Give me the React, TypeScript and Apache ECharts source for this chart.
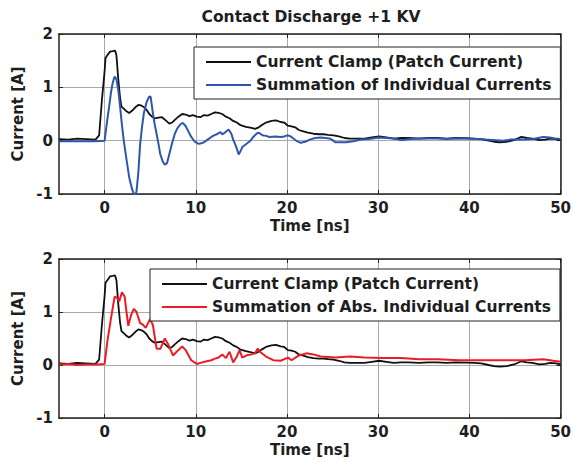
import React, { useEffect, useRef } from "react";
import * as echarts from "echarts";

const titleText = "Contact Discharge +1 KV";
const clampName = "Current Clamp (Patch Current)";
const sumName = "Summation of Individual Currents";
const absName = "Summation of Abs. Individual Currents";
const xName = "Time [ns]";
const yName = "Current [A]";
const xTicks = [0, 10, 20, 30, 40, 50];

// Current clamp (black), same trace in both panels
const clampT = [
  -5, -4, -3, -2, -1, -0.6, -0.3, 0, 0.1, 0.3,
  0.6, 0.9, 1.15, 1.3, 1.5, 1.7, 1.85, 2.1, 2.4, 2.7,
  3.0, 3.4, 3.7, 4.0, 4.3, 4.6, 4.9, 5.2, 5.5, 5.9,
  6.3, 6.7, 7.1, 7.4, 7.7, 8.1, 8.5, 8.9, 9.3, 9.7,
  10.1, 10.5, 10.9, 11.3, 11.7, 12.1, 12.5, 12.9, 13.3, 13.7,
  14.1, 14.5, 14.9, 15.5, 16.1, 16.5, 16.9, 17.3, 17.7, 18.3,
  18.8, 19.3, 19.7, 20.1, 20.5, 20.9, 21.3, 21.7, 22.3, 22.9,
  23.5, 24.0, 24.5, 25.1, 25.7, 26.3, 26.9, 27.5, 28.5, 29.3,
  30.1, 30.9, 31.7, 32.5, 33.3, 34.5, 35.5, 36.5, 37.5, 38.5,
  39.7, 40.5, 41.3, 42.1, 42.7, 43.3, 44.1, 44.9, 45.7, 46.3,
  46.9, 47.7, 48.3, 48.9, 49.5, 50,
];
const clampI = [
  0.03, 0.02, 0.04, 0.03, 0.02, 0.1, 0.75, 1.3, 1.55, 1.6,
  1.67, 1.68, 1.69, 1.6, 1.15, 0.8, 0.64, 0.6, 0.55, 0.52,
  0.56, 0.63, 0.67, 0.66, 0.63, 0.58, 0.5, 0.45, 0.42, 0.43,
  0.44, 0.38, 0.32, 0.34, 0.39, 0.45, 0.5, 0.49, 0.46, 0.48,
  0.45, 0.44, 0.48, 0.47, 0.5, 0.53, 0.52, 0.5, 0.45, 0.42,
  0.37, 0.34, 0.29, 0.26, 0.24, 0.22, 0.25, 0.3, 0.34, 0.37,
  0.38, 0.35, 0.34, 0.28, 0.27, 0.25, 0.2, 0.18, 0.15, 0.13,
  0.12, 0.12, 0.11, 0.1, 0.08, 0.05, 0.04, 0.04, 0.04, 0.06,
  0.08, 0.06, 0.04, 0.05, 0.05, 0.04, 0.05, 0.05, 0.04, 0.05,
  0.045, 0.04, 0.03, 0.0, -0.02, -0.03, -0.02, 0.01, 0.07, 0.05,
  0.04, 0.01, 0.02, 0.04, 0.03, 0.01,
];

// Summation of individual currents (blue)
const sumT = [
  -5, -4, -3, -2, -1, 0, 0.1, 0.3, 0.5, 0.7,
  0.85, 1.0, 1.1, 1.3, 1.5, 1.7, 1.9, 2.1, 2.4, 2.7,
  3.0, 3.2, 3.35, 3.5, 3.7, 3.9, 4.1, 4.3, 4.6, 4.9,
  5.05, 5.3, 5.5, 5.7, 5.9, 6.1, 6.35, 6.6, 6.85, 7.1,
  7.4, 7.7, 8.0, 8.4, 8.6, 8.9, 9.2, 9.5, 9.9, 10.3,
  10.6, 10.9, 11.3, 11.7, 12.0, 12.3, 12.5, 12.7, 12.9, 13.1,
  13.4, 13.6, 13.9, 14.1, 14.3, 14.5, 14.7, 14.9, 15.1, 15.4,
  15.7, 16.0, 16.3, 16.6, 16.8, 17.0, 17.3, 17.7, 18.1, 18.7,
  19.3, 19.7, 20.1, 20.4, 20.7, 21.1, 21.5, 22.0, 22.5, 23.1,
  23.7, 24.2, 24.7, 25.0, 25.3, 25.9, 26.5, 27.3, 28.1, 29.0,
  30.1, 30.9, 31.7, 32.5, 33.5, 34.5, 35.5, 36.5, 37.5, 38.5,
  39.7, 40.8, 41.8, 42.9, 43.7, 44.5, 45.3, 46.1, 47.0, 48.1,
  48.8, 49.4, 50,
];
const sumI = [
  -0.01, -0.01, -0.01, -0.01, -0.01, 0.0, 0.13, 0.4, 0.64, 0.9,
  1.05, 1.15, 1.2, 1.15, 0.95, 0.64, 0.3, 0.0, -0.35, -0.69,
  -0.9, -1.0, -1.02, -0.95, -0.6, -0.06, 0.25, 0.51, 0.72, 0.83,
  0.82, 0.51, 0.3, 0.13, -0.05, -0.25, -0.38, -0.45, -0.42, -0.25,
  -0.05, 0.13, 0.24, 0.32, 0.33, 0.27, 0.17, 0.07, -0.02, -0.06,
  -0.05, -0.03, 0.02, 0.07, 0.1, 0.12, 0.14, 0.16, 0.12, 0.14,
  0.18, 0.21, 0.13, 0.02, -0.06, -0.15, -0.26, -0.2, -0.12, -0.08,
  -0.04, 0.0, 0.07, 0.12, 0.15, 0.14, 0.1, 0.09, 0.07, 0.08,
  0.07, 0.08, 0.1, 0.08, 0.04, -0.01, -0.04, -0.02, 0.02, 0.05,
  0.06, 0.05, 0.04, 0.01, -0.03, -0.03, -0.03, -0.01, 0.02, 0.03,
  0.06, 0.05, 0.04, 0.01, 0.03, 0.04, 0.04, 0.04, 0.03, 0.04,
  0.04, 0.03, 0.02, 0.01, 0.0, 0.02, 0.02, 0.02, 0.03, 0.07,
  0.06, 0.04, 0.03,
];

// Summation of absolute individual currents (red)
const absT = [
  -5, -4, -3, -2, -1, 0, 0.3, 0.7, 1.1, 1.4,
  1.6, 1.9, 2.2, 2.4, 2.6, 2.9, 3.2, 3.5, 3.9, 4.2,
  4.5, 5.0, 5.3, 5.7, 6.1, 6.6, 7.0, 7.5, 7.9, 8.5,
  8.9, 9.5, 10.1, 10.7, 11.2, 11.7, 12.1, 12.5, 12.9, 13.3,
  13.7, 14.1, 14.5, 14.8, 15.1, 15.7, 16.1, 16.5, 16.8, 17.1,
  17.7, 18.5, 19.3, 20.1, 20.5, 21.3, 22.1, 22.9, 23.7, 25.3,
  26.9, 28.5, 30.5, 32.5, 34.5, 36.5, 38.9, 41.3, 43.7, 46.1,
  48.1, 49.2, 50,
];
const absI = [
  0.01, 0.02, 0.0, 0.01, 0.01, 0.02, 0.44, 0.88, 1.29, 1.26,
  1.2, 1.37, 1.29, 1.0, 0.74, 0.94, 1.06, 1.0, 0.79, 0.76,
  0.7, 0.87, 0.75, 0.31, 0.3, 0.5, 0.38, 0.18, 0.25, 0.35,
  0.28, 0.09, 0.02, 0.05, 0.07, 0.09, 0.12, 0.14, 0.2, 0.13,
  0.25, 0.05, 0.16, 0.28, 0.14, 0.19, 0.2, 0.22, 0.31, 0.24,
  0.16, 0.09, 0.08, 0.14, 0.09, 0.18, 0.22, 0.2, 0.16, 0.14,
  0.16, 0.14, 0.13, 0.13, 0.11, 0.11, 0.09, 0.09, 0.09, 0.09,
  0.11, 0.08, 0.06,
];

const pairs = (t: number[], v: number[]) => t.map((x, i) => [x, v[i]]);

const FONT = "DejaVu Sans";
const TXT = "#1e1e1e";
const FRAME = "#222";
const GRIDC = "#a9a9a9";

export default function App() {
  const ref = useRef<HTMLDivElement>(null);
  useEffect(() => {
    if (!ref.current) return;
    const chart = echarts.init(ref.current, undefined, { renderer: "svg" });
    const grids = [
      { left: 59, top: 34, width: 505, height: 160 },
      { left: 59, top: 259, width: 505, height: 159 },
    ];
    const txt = { fontFamily: FONT, fontWeight: "bold" as const, color: TXT, fontSize: 15 };
    const xAxes: any[] = [];
    const yAxes: any[] = [];
    grids.forEach((_, gi) => {
      xAxes.push({
        gridIndex: gi, type: "value", min: -5, max: 50, position: "bottom",
        axisLine: { show: true, onZero: false, lineStyle: { color: FRAME, width: 1.5 } },
        axisTick: { show: true, inside: true, length: 4, customValues: xTicks, lineStyle: { color: FRAME } },
        axisLabel: { show: true, customValues: xTicks, margin: 6, ...txt },
        splitLine: { show: true, lineStyle: { color: GRIDC, width: 1 } },
        name: xName, nameLocation: "middle", nameGap: 24, nameTextStyle: { ...txt },
      });
      xAxes.push({
        gridIndex: gi, type: "value", min: -5, max: 50, position: "top",
        axisLine: { show: true, onZero: false, lineStyle: { color: FRAME, width: 1.5 } },
        axisTick: { show: true, inside: true, length: 4, customValues: xTicks, lineStyle: { color: FRAME } },
        axisLabel: { show: false },
        splitLine: { show: false },
      });
      yAxes.push({
        gridIndex: gi, type: "value", min: -1, max: 2, interval: 1, position: "left",
        axisLine: { show: true, onZero: false, lineStyle: { color: FRAME, width: 1.5 } },
        axisTick: { show: true, inside: true, length: 4, lineStyle: { color: FRAME } },
        axisLabel: { show: true, margin: 6, ...txt },
        splitLine: { show: true, lineStyle: { color: GRIDC, width: 1 } },
        name: yName, nameLocation: "middle", nameGap: 31, nameTextStyle: { ...txt },
      });
      yAxes.push({
        gridIndex: gi, type: "value", min: -1, max: 2, interval: 1, position: "right",
        axisLine: { show: true, onZero: false, lineStyle: { color: FRAME, width: 1.5 } },
        axisTick: { show: true, inside: true, length: 4, lineStyle: { color: FRAME } },
        axisLabel: { show: false },
        splitLine: { show: false },
      });
    });
    const mk = (name: string, data: number[][], color: string, width: number, gi: number) => ({
      name, type: "line", data, xAxisIndex: gi * 2, yAxisIndex: gi * 2,
      symbol: "none", showSymbol: false, smooth: false,
      lineStyle: { color, width }, itemStyle: { color },
    });
    const legendBase = {
      orient: "vertical", icon: "rect", itemWidth: 45, itemHeight: 2, itemGap: 5,
      padding: [6, 9, 5, 12], backgroundColor: "#fff", borderColor: FRAME, borderWidth: 1,
      borderRadius: 0, textStyle: { ...txt, fontSize: 15.5, lineHeight: 18 },
      selectedMode: false,
    };
    chart.setOption({
      animation: false,
      backgroundColor: "#fff",
      title: {
        text: titleText, left: 311, top: 9, textAlign: "center", padding: 0,
        textStyle: { ...txt, fontSize: 15.5 },
      },
      grid: grids,
      xAxis: xAxes,
      yAxis: yAxes,
      legend: [
        { ...legendBase, data: [clampName, sumName], left: 194, top: 47 },
        { ...legendBase, data: [clampName, absName], left: 150, top: 269 },
      ],
      series: [
        mk(clampName, pairs(clampT, clampI), "#111111", 1.8, 0),
        mk(sumName, pairs(sumT, sumI), "#2f55ad", 2, 0),
        mk(clampName, pairs(clampT, clampI), "#111111", 1.8, 1),
        mk(absName, pairs(absT, absI), "#ec1c24", 2, 1),
      ],
    });
    return () => chart.dispose();
  }, []);
  return (
    <div
      ref={ref}
      style={{ position: "fixed", left: 0, top: 0, width: 574, height: 462, background: "#fff" }}
    />
  );
}
